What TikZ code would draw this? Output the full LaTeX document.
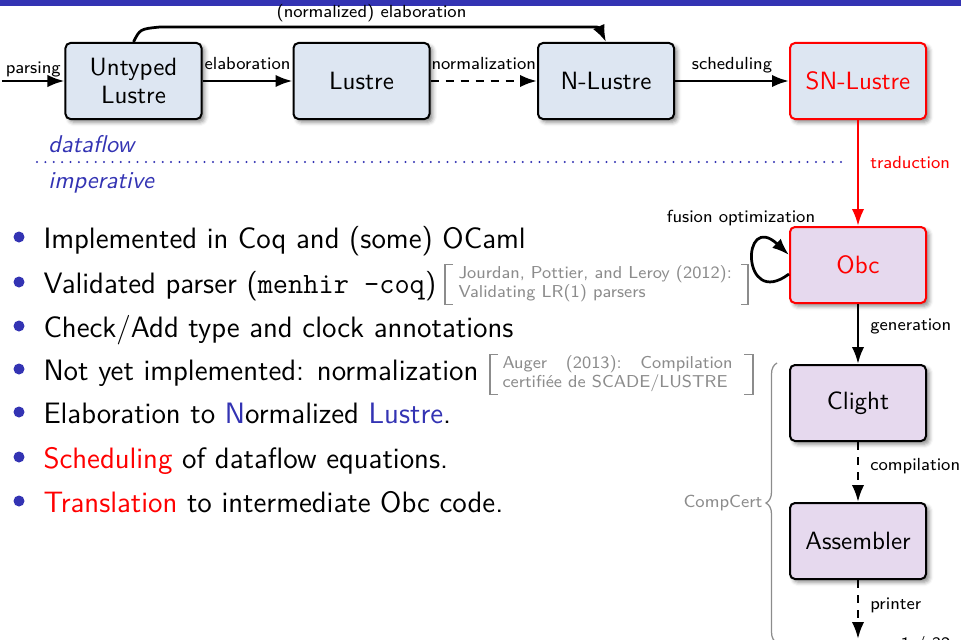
\documentclass[tikz,border=0pt]{standalone}
\usetikzlibrary{arrows.meta,shadows.blur,decorations.pathreplacing}

\definecolor{structblue}{RGB}{51,51,179}
\definecolor{boxblue}{RGB}{221,230,242}
\definecolor{boxlilac}{RGB}{230,217,238}
\definecolor{citegray}{RGB}{140,140,140}

\tikzset{
  stagebox/.style={draw, line width=0.8pt, rounded corners=2pt,
    minimum width=54.4pt, minimum height=30.4pt, align=center, inner sep=2pt,
    font=\sffamily\fontsize{10}{11.4}\selectfont,
    blur shadow={shadow xshift=1.3pt, shadow yshift=-1.3pt,
      shadow blur radius=1.6pt, shadow opacity=45}},
  dfbox/.style={stagebox, fill=boxblue},
  impbox/.style={stagebox, fill=boxlilac},
  hot/.style={draw=red, text=red},
  arr/.style={line width=1.1pt, -{Latex[length=6.8pt,width=5pt]}},
  dasharr/.style={arr, dash pattern=on 3.2pt off 2.8pt},
  lblfont/.style={font=\sffamily\fontsize{7}{8.2}\selectfont, inner sep=0pt},
  toplbl/.style={lblfont, anchor=base, yshift=4.8pt},
  sidelbl/.style={lblfont, anchor=base west, xshift=4.4pt},
  itemtext/.style={font=\sffamily\fontsize{11.8}{14}\selectfont, inner sep=0pt, anchor=base west},
  citetext/.style={font=\sffamily\fontsize{6.9}{6.4}\selectfont, text=citegray, inner sep=0pt, anchor=base west},
  brk/.style={draw=citegray, line width=0.6pt},
  levellbl/.style={font=\sffamily\itshape\fontsize{9.7}{11.6}\selectfont, text=structblue, inner sep=0pt, anchor=base west},
}

\begin{document}
\begin{tikzpicture}[x=0.4pt,y=-0.4pt]
\useasboundingbox (0,0) rectangle (961,640);
\fill[structblue] (0,0) rectangle (961,5.5);

% compilation stages
\node[dfbox] (untyped) at (133.5,81) {Untyped\\Lustre};
\node[dfbox] (lustre) at (361.5,81) {Lustre};
\node[dfbox] (nlustre) at (606,81) {N-Lustre};
\node[dfbox,hot] (snlustre) at (858,81) {SN-Lustre};
\node[impbox,hot] (obc) at (858,265) {Obc};
\node[impbox] (clight) at (858,403) {Clight};
\node[impbox] (asm) at (858,541) {Assembler};

\coordinate (src) at (2,81);
\coordinate (out) at (858,639);

% passes
\draw[arr] (src) -- (untyped) node[toplbl, midway, yshift=-2pt] {parsing};
\draw[arr] (untyped) -- (lustre) node[toplbl, midway] {elaboration};
\draw[dasharr] (lustre) -- (nlustre) node[toplbl, midway] {normalization};
\draw[arr] (nlustre) -- (snlustre) node[toplbl, midway] {scheduling};
\draw[arr] (untyped.north) .. controls (140,29) .. (160,27)
  -- node[toplbl, yshift=-1pt] {(normalized) elaboration} (583,27)
  .. controls (599,27) .. (nlustre.north);
\draw[arr, red] (snlustre) -- (obc) node[sidelbl, pos=0.46, text=red] {traduction};
\draw[arr] ([yshift=-3.6pt]obc.west) .. controls (741,310) and (741,210) .. ([yshift=4pt]obc.west);
\node[lblfont, anchor=base] (fusionlbl) at (741,222) {fusion optimization};
\draw[arr] (obc) -- (clight) node[sidelbl, pos=0.44] {generation};
\draw[dasharr] (clight) -- (asm) node[sidelbl, pos=0.47] {compilation};
\draw[dasharr] (asm) -- (out) node[sidelbl, pos=0.5] {printer};

% dataflow / imperative split
\node[levellbl] (dataflow) at (48,152) {dataflow};
\node[levellbl] (imperative) at (48,188) {imperative};
\coordinate (sepl) at (37,162);
\coordinate (sepr) at (845,162);
\draw[structblue, line width=0.9pt, line cap=round, dash pattern=on 0pt off 3.35pt] (sepl) -- (sepr);

% bullet list
\foreach \y in {248,293,337,380,423,468,512}
  \fill[structblue] (19,{\y-11}) circle (2.2pt);
\node[itemtext] (it1) at (43,248) {Implemented in Coq and (some) OCaml};
\node[itemtext] (it2) at (43,293) {Validated parser (\texttt{menhir -coq})};
\node[itemtext] (it3) at (43,337) {Check/Add type and clock annotations};
\node[itemtext] (it4) at (43,380) {Not yet implemented: normalization};
\node[itemtext] (it5) at (43,423) {Elaboration to \textcolor{structblue}{N}ormalized \textcolor{structblue}{Lustre}.};
\node[itemtext] (it6) at (43,468) {\textcolor{red}{Scheduling} of dataflow equations.};
\node[itemtext] (it7) at (43,512) {\textcolor{red}{Translation} to intermediate Obc code.};

% citations
\node[citetext] (jourdan) at (458,278) {\parbox[t]{110.8pt}{\raggedright Jourdan, Pottier, and Leroy (2012):\\Validating LR(1) parsers}};
\draw[brk] ([xshift=-2pt]jourdan.north west) -- ++(-3.2pt,0pt) |- ([xshift=-2pt,yshift=-0.8pt]jourdan.south west);
\draw[brk] ([xshift=2pt]jourdan.north east) -- ++(2.8pt,0pt) |- ([xshift=2pt,yshift=-0.8pt]jourdan.south east);

\node[citetext] (auger) at (502,368) {\parbox[t]{92pt}{Auger\hfill(2013):\hfill Compilation\\certifiée de SCADE/LUSTRE}};
\draw[brk] ([xshift=-1.6pt]auger.north west) -- ++(-3.2pt,0pt) |- ([xshift=-1.6pt,yshift=-0.8pt]auger.south west);
\draw[brk] ([xshift=4.4pt]auger.north east) -- ++(3.6pt,0pt) |- ([xshift=4.4pt,yshift=-0.8pt]auger.south east);

% CompCert range
\coordinate (ccbot) at (777,643);
\coordinate (cctop) at (777,363);
\draw[citegray, line width=0.5pt, decorate, decoration={brace, amplitude=4.4pt}] (ccbot) -- (cctop)
  node[lblfont, text=citegray, midway, anchor=east, xshift=-5.6pt] (compcert) {CompCert};

\node[lblfont, anchor=north east] (pagenum) at (951,636) {1 / 32};
\end{tikzpicture}
\end{document}
